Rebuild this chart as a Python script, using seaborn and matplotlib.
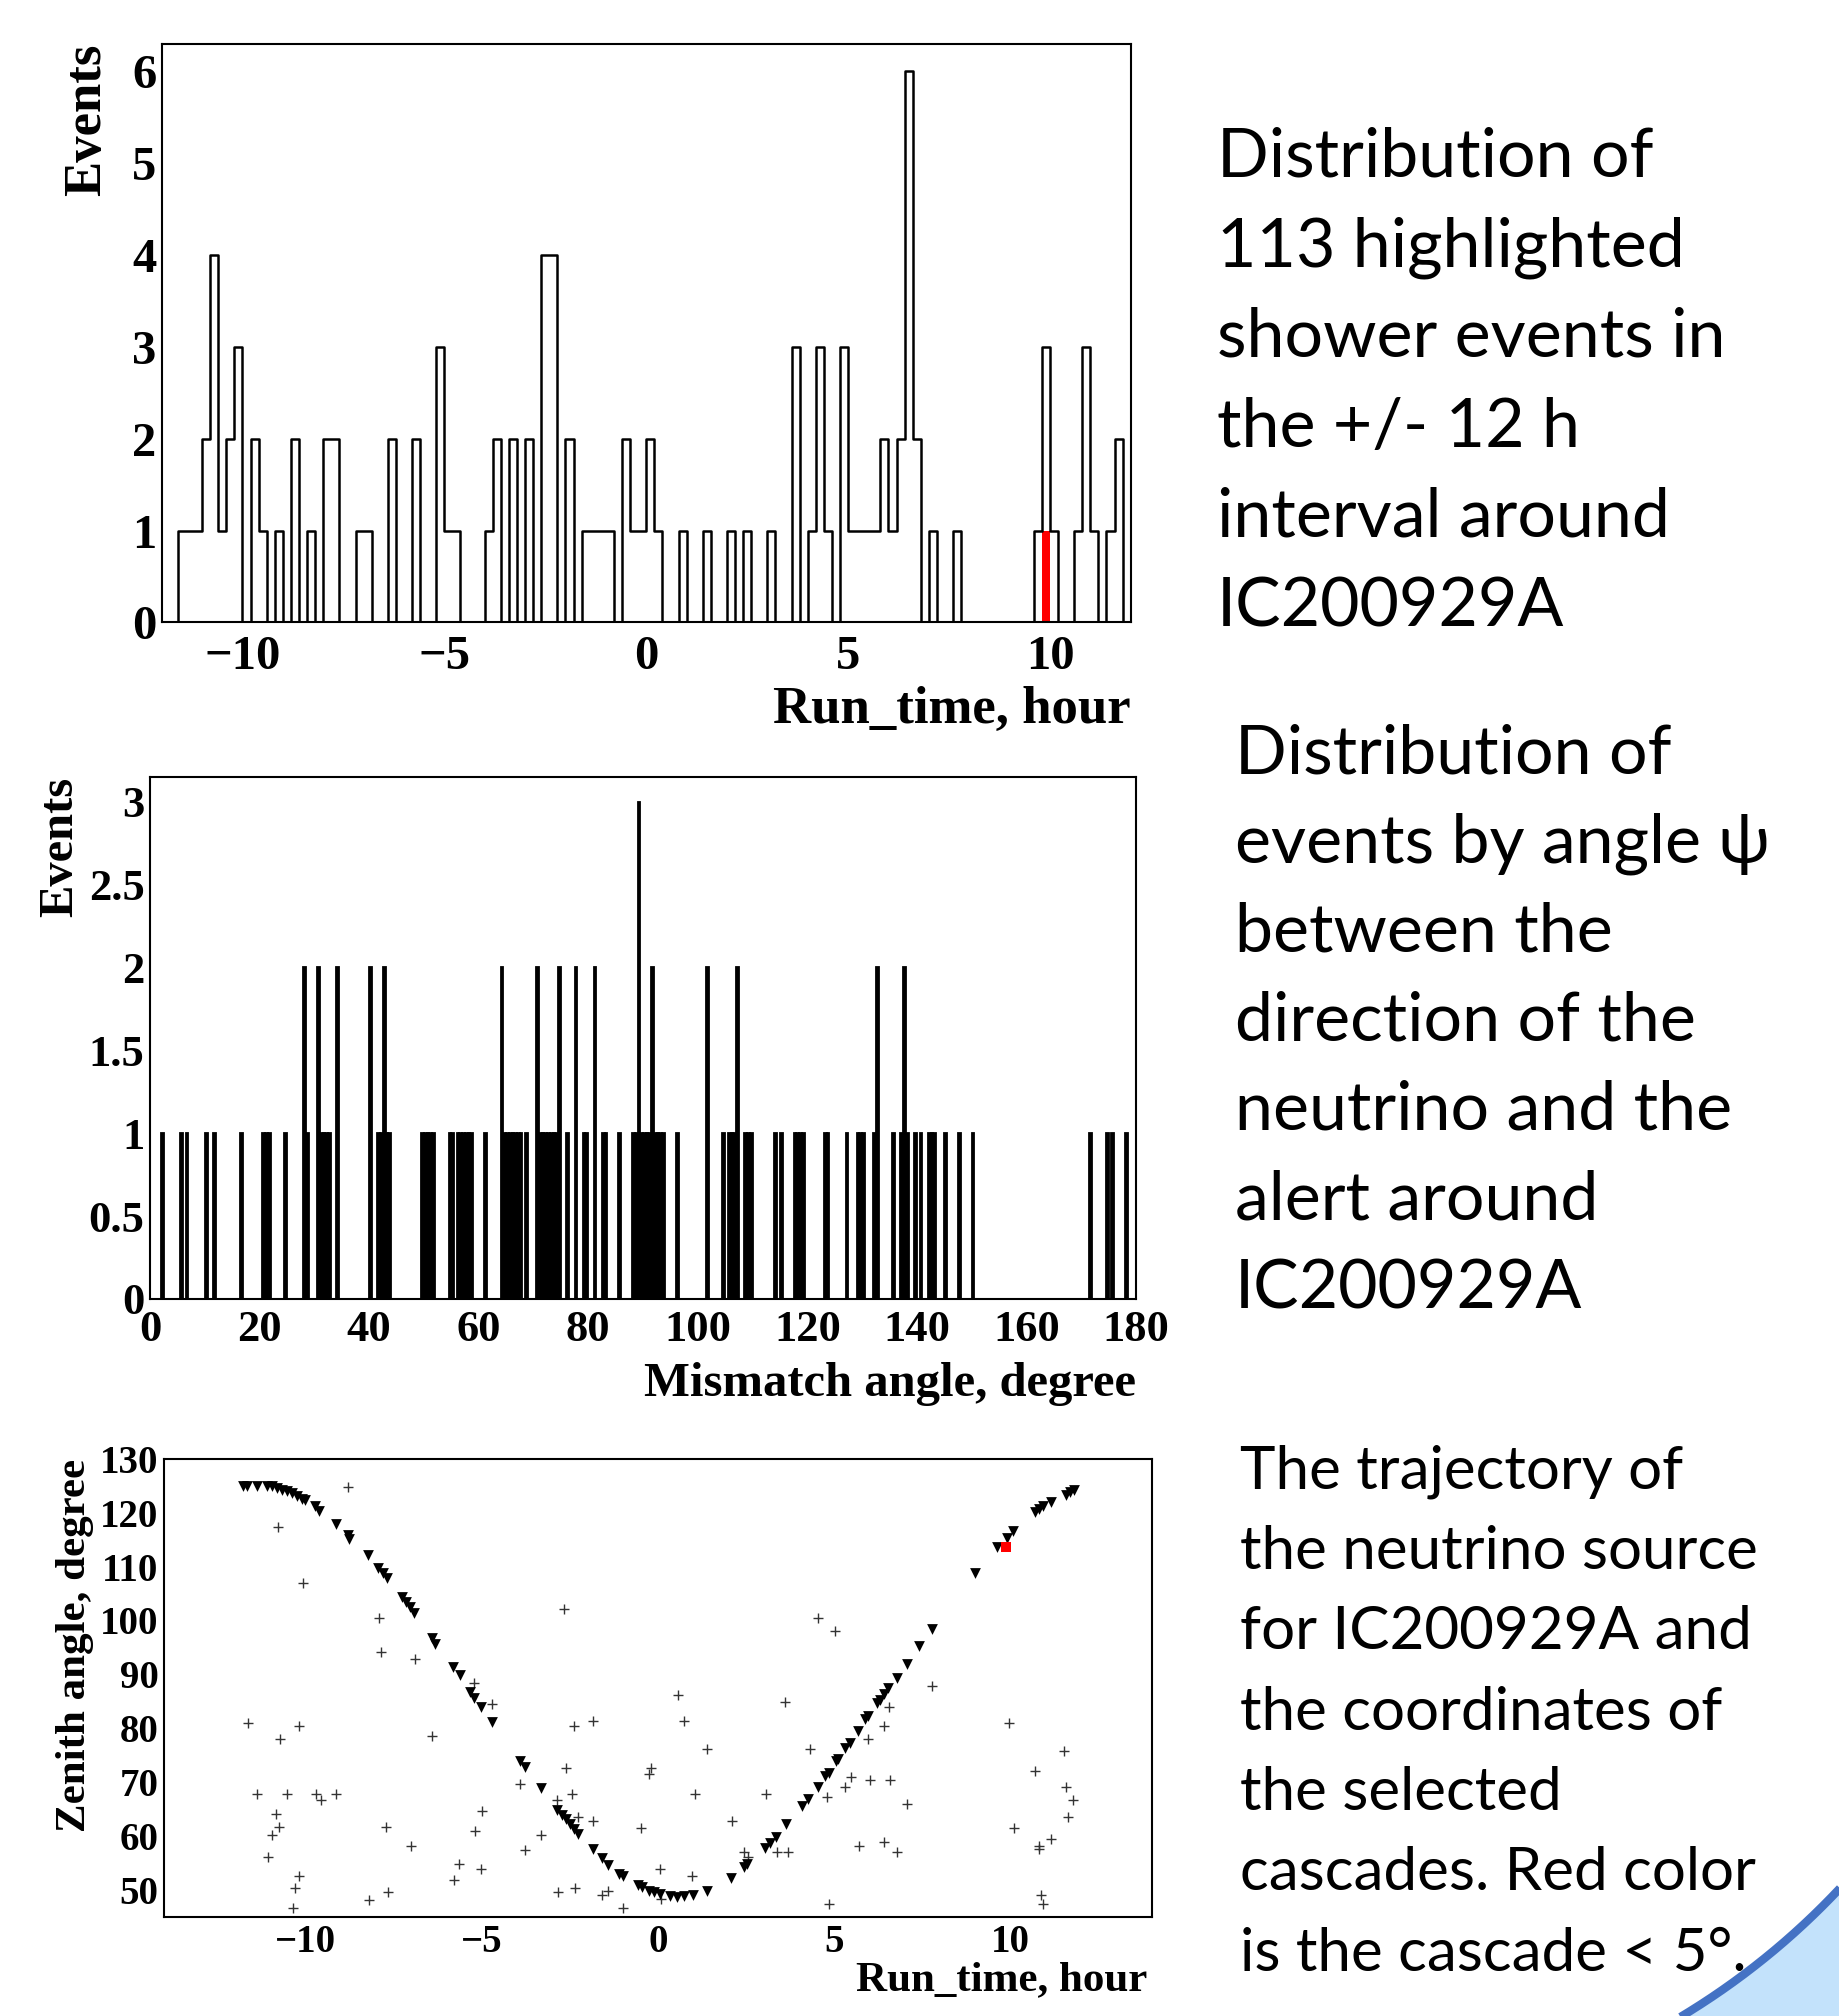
import numpy as np
import pandas as pd
import matplotlib
matplotlib.use("Agg")
import matplotlib.pyplot as plt
from matplotlib.ticker import MultipleLocator, FuncFormatter
import seaborn as sns

# --- data ---
# top: 113 shower events, 0.2 h bins from -12 h to +12 h
run_counts = [
    0, 0, 1, 1, 1, 2, 4, 1, 2, 3, 0, 2, 1, 0, 1, 0, 2, 0, 1, 0,
    2, 2, 0, 0, 1, 1, 0, 0, 2, 0, 0, 2, 0, 0, 3, 1, 1, 0, 0, 0,
    1, 2, 0, 2, 0, 2, 0, 4, 4, 0, 2, 0, 1, 1, 1, 1, 0, 2, 1, 1,
    2, 1, 0, 0, 1, 0, 0, 1, 0, 0, 1, 0, 1, 0, 0, 1, 0, 0, 3, 0,
    1, 3, 1, 0, 3, 1, 1, 1, 1, 2, 1, 2, 6, 2, 0, 1, 0, 0, 1, 0,
    0, 0, 0, 0, 0, 0, 0, 0, 1, 3, 1, 0, 0, 1, 3, 1, 0, 1, 2, 0,
]
red_run_time = [9.9]

# middle: mismatch angle, 0.5 degree bins (bin centre, events)
psi_centers = [
    2.25, 5.75, 6.75, 10.25, 11.75, 16.75, 20.75, 21.25, 21.75, 24.75,
    28.25, 28.75, 30.75, 31.25, 31.75, 32.25, 32.75, 34.25, 40.25, 41.75,
    42.25, 42.75, 43.25, 43.75, 49.75, 50.25, 50.75, 51.25, 51.75, 54.75,
    55.25, 56.25, 56.75, 57.25, 57.75, 58.25, 58.75, 61.25, 64.25, 64.75,
    65.25, 65.75, 66.25, 66.75, 67.25, 67.75, 68.75, 70.75, 71.25, 71.75,
    72.25, 72.75, 73.25, 73.75, 74.25, 74.75, 76.25, 77.75, 79.25, 79.75,
    81.25, 82.75, 83.25, 85.75, 88.25, 88.75, 89.25, 89.75, 90.25, 90.75,
    91.25, 91.75, 92.25, 92.75, 93.25, 93.75, 96.25, 101.75, 104.75, 105.75,
    106.25, 106.75, 107.25, 108.75, 109.25, 109.75, 114.25, 115.25, 117.75, 118.25,
    118.75, 119.25, 123.25, 123.75, 127.25, 129.25, 129.75, 130.25, 132.25, 132.75,
    135.75, 137.25, 137.75, 138.25, 139.75, 140.75, 142.25, 142.75, 143.25, 145.25,
    147.75, 150.25, 171.75, 174.75, 175.75, 178.25,
]
psi_counts = [
    1, 1, 1, 1, 1, 1, 1, 1, 1, 1,
    2, 1, 2, 1, 1, 1, 1, 2, 2, 1,
    1, 2, 1, 1, 1, 1, 1, 1, 1, 1,
    1, 1, 1, 1, 1, 1, 1, 1, 2, 1,
    1, 1, 1, 1, 1, 1, 1, 2, 1, 1,
    1, 1, 1, 1, 1, 2, 1, 2, 1, 1,
    2, 1, 1, 1, 1, 1, 3, 1, 1, 1,
    1, 2, 1, 1, 1, 1, 1, 2, 1, 1,
    1, 1, 2, 1, 1, 1, 1, 1, 1, 1,
    1, 1, 1, 1, 1, 1, 1, 1, 1, 2,
    1, 1, 2, 1, 1, 1, 1, 1, 1, 1,
    1, 1, 1, 1, 1, 1,
]

# bottom: source trajectory (triangles)
track_t = [
    -11.75, -11.64, -11.37, -11.09, -10.95, -10.80, -10.66, -10.52, -10.38, -10.24,
    -10.10, -10.00, -9.72, -9.60, -9.12, -8.79, -8.75, -8.23, -7.92, -7.78,
    -7.67, -7.26, -7.14, -7.02, -6.90, -6.41, -6.31, -5.81, -5.60, -5.32,
    -5.21, -5.02, -4.71, -3.92, -3.78, -3.31, -2.85, -2.72, -2.60, -2.49,
    -2.37, -2.25, -1.85, -1.57, -1.40, -1.09, -1.00, -0.57, -0.45, -0.26,
    -0.12, 0.07, 0.35, 0.54, 0.75, 1.01, 1.39, 2.08, 2.43, 2.53,
    3.04, 3.19, 3.36, 3.64, 4.08, 4.27, 4.53, 4.74, 4.84, 5.06,
    5.12, 5.31, 5.45, 5.66, 5.88, 5.95, 6.21, 6.30, 6.40, 6.52,
    6.78, 7.05, 7.40, 7.77, 8.99, 9.62, 9.89, 10.08, 10.68, 10.80,
    10.93, 11.14, 11.56, 11.69, 11.80,
]
track_zen = [
    125.0, 125.0, 125.0, 125.0, 124.9, 124.6, 124.3, 124.0, 123.6, 123.1,
    122.6, 122.3, 121.2, 120.4, 117.9, 115.8, 115.2, 112.1, 109.7, 108.8,
    107.8, 104.3, 103.4, 102.5, 101.3, 96.7, 95.6, 91.4, 89.8, 86.7,
    85.6, 83.9, 81.1, 73.9, 72.8, 68.8, 64.7, 63.8, 63.1, 62.2,
    61.3, 60.4, 57.5, 55.8, 54.5, 52.9, 52.6, 50.8, 50.4, 49.8,
    49.6, 49.1, 48.8, 48.6, 48.8, 48.9, 49.8, 52.2, 54.1, 54.7,
    57.8, 58.6, 59.8, 62.1, 65.6, 66.9, 69.1, 71.1, 71.7, 73.8,
    74.2, 76.3, 77.2, 79.4, 81.6, 82.3, 84.6, 85.3, 86.3, 87.5,
    89.4, 91.9, 95.2, 98.4, 108.8, 113.6, 115.4, 116.7, 120.2, 120.8,
    121.3, 122.1, 123.4, 123.9, 124.2,
]

# bottom: selected cascades (crosses)
casc_t = [
    -8.79, -10.78, -10.07, -7.90, -7.84, -6.88, -11.63, -10.16, -10.71, -6.41,
    -11.35, -10.52, -9.70, -9.56, -9.12, -10.83, -10.95, -10.73, -11.06, -10.16,
    -10.28, -10.35, -7.71, -7.00, -8.20, -7.66, -5.63, -5.79,
    -2.65, -5.21, -4.69, -2.39, -1.85, -2.60, -3.92, -2.44, -4.99, -5.18,
    -5.02, -3.31, -3.76, -2.85, -2.25, -1.84, -2.84, -2.34, -1.57, -1.40,
    -1.00, -0.47, -0.25, -0.20, 0.57, 0.73, 1.39, 1.06, 0.05, 0.09,
    0.98, 2.10, 2.43, 2.55, 3.06, 3.37, 3.70, 3.61, 4.32, 4.79,
    4.54, 5.03, 4.84,
    7.77, 6.54, 6.40, 5.95, 5.47, 5.31, 6.00, 6.57, 7.05, 5.69,
    6.40, 6.78, 9.95, 10.09, 10.68, 11.52, 11.56, 11.78, 11.63, 11.14,
    10.80, 10.80, 10.87, 10.92,
]
casc_zen = [
    124.8, 117.4, 106.9, 100.4, 94.1, 92.9, 80.9, 80.3, 78.0, 78.6,
    67.8, 67.8, 67.8, 66.6, 67.8, 64.1, 60.1, 61.6, 56.1, 52.6,
    50.3, 46.6, 61.6, 58.1, 48.1, 49.6, 54.7, 51.8,
    102.2, 88.3, 84.4, 80.3, 81.4, 72.6, 69.7, 67.8, 64.6, 60.8,
    53.9, 60.2, 57.4, 66.6, 63.4, 62.8, 49.6, 50.3, 48.9, 49.7,
    46.6, 61.4, 71.4, 72.6, 86.1, 81.4, 76.1, 67.8, 53.9, 48.3,
    52.6, 62.8, 57.0, 56.1, 67.8, 57.0, 57.0, 84.9, 76.1, 67.2,
    100.4, 98.1, 47.4,
    87.8, 83.9, 80.3, 78.0, 70.9, 69.1, 70.3, 70.3, 65.9, 58.1,
    58.8, 56.9, 80.9, 61.4, 72.1, 75.8, 69.1, 66.6, 63.4, 59.4,
    58.1, 57.5, 48.9, 47.3,
]
red_t = [9.88]
red_zen = [113.6]

text_top = ["Distribution of", "113 highlighted", "shower events in",
            "the +/- 12 h", "interval around", "IC200929A"]
text_mid = ["Distribution of", "events by angle \u03c8", "between the",
            "direction of the", "neutrino and the", "alert around", "IC200929A"]
text_bot = ["The trajectory of", "the neutrino source", "for IC200929A and",
            "the coordinates of", "the selected", "cascades. Red color",
            "is the cascade < 5\u00b0."]

# --- style ---
sns.set_theme(style="white")
plt.rcParams['font.family'] = ['Liberation Serif', 'DejaVu Serif']
plt.rcParams['font.weight'] = 'bold'
plt.rcParams['axes.labelweight'] = 'bold'
plt.rcParams['text.color'] = 'black'
plt.rcParams['axes.labelcolor'] = 'black'

W, H = 1839, 2016
fig = plt.figure(figsize=(W / 100, H / 100), dpi=100)
fig.patch.set_facecolor('white')


def px_axes(left, top, right, bottom):
    return fig.add_axes([left / W, 1 - bottom / H, (right - left) / W, (bottom - top) / H])


def root_style(ax, xmaj, xmin, ymaj, ymin, ylen, xlen, labsize, xpad, ypad):
    for sp in ax.spines.values():
        sp.set_linewidth(1.5)
        sp.set_color('black')
    ax.xaxis.set_major_locator(MultipleLocator(xmaj))
    ax.xaxis.set_minor_locator(MultipleLocator(xmin))
    ax.yaxis.set_major_locator(MultipleLocator(ymaj))
    ax.yaxis.set_minor_locator(MultipleLocator(ymin))
    ax.tick_params(which='both', direction='in', top=False, right=False,
                   color='#666666', width=1.0, labelcolor='black', labelsize=labsize)
    ax.tick_params(axis='y', which='major', length=ylen, pad=ypad)
    ax.tick_params(axis='y', which='minor', length=ylen / 2)
    ax.tick_params(axis='x', which='major', length=xlen, pad=xpad)
    ax.tick_params(axis='x', which='minor', length=xlen / 2)
    ax.xaxis.set_major_formatter(FuncFormatter(lambda v, p: f"{v:g}".replace('-', '\u2212')))
    ax.yaxis.set_major_formatter(FuncFormatter(lambda v, p: f"{v:g}"))
    ax.grid(False)


def set_labels(ax, xl, yl, size, xy, yx):
    ax.set_xlabel(xl, fontsize=size, loc='right')
    ax.set_ylabel(yl, fontsize=size, loc='top')
    ax.xaxis.set_label_coords(xy[0], xy[1])
    ax.yaxis.set_label_coords(yx[0], yx[1])
    ax.xaxis.label.set_va('center')
    ax.yaxis.label.set_va('center')


# background corner decoration
bg = fig.add_axes([0, 0, 1, 1], zorder=-5)
bg.set_xlim(0, W)
bg.set_ylim(H, 0)
bg.axis('off')
cx, cy, r = 1298, 1380, 743
t = np.radians(np.linspace(25, 75, 200))
arc_x = cx + r * np.cos(t)
arc_y = cy + r * np.sin(t)
bg.fill(np.append(arc_x, 3500), np.append(arc_y, 3500), color='#C3E2FB', lw=0)
bg.plot(arc_x, arc_y, color='#4472C4', lw=6, solid_capstyle='butt')

# --- top: run time histogram ---
ax1 = px_axes(161.7, 43.7, 1130.7, 622.4)
run_edges = [round(-12 + 0.2 * i, 1) for i in range(len(run_counts) + 1)]
run_df = pd.DataFrame({'t': [e + 0.1 for e in run_edges[:-1]], 'n': run_counts})
red_df = pd.DataFrame({'t': red_run_time})
sns.histplot(data=red_df, x='t', bins=[9.8, 10.0], element="bars", fill=True,
             color='red', alpha=1, linewidth=0, ax=ax1, zorder=2)
sns.histplot(data=run_df, x='t', weights='n', bins=run_edges, element="step",
             fill=False, color='black', linewidth=1.8, ax=ax1, zorder=3)
ax1.set_xlim(-12, 12)
ax1.set_ylim(0, 6.3)
root_style(ax1, 5, 1, 1, 0.2, 21, 11, 35, 9, 4)
set_labels(ax1, 'Run_time, hour', 'Events', 38, (1.0, -0.152), (-0.077, 1.0))

# --- middle: mismatch angle histogram ---
ax2 = px_axes(150, 776.8, 1136, 1299)
psi_edges = [0.5 * i for i in range(361)]
psi_df = pd.DataFrame({'psi': psi_centers, 'n': psi_counts})
sns.histplot(data=psi_df, x='psi', weights='n', bins=psi_edges, element="bars",
             fill=True, color='black', edgecolor='black', alpha=1, linewidth=1.3, ax=ax2)
ax2.set_xlim(0, 180)
ax2.set_ylim(0, 3.15)
root_style(ax2, 20, 5, 0.5, 0.1, 21, 11, 32, 8, 4)
set_labels(ax2, 'Mismatch angle, degree', 'Events', 35, (1.0, -0.163), (-0.091, 1.0))

# --- bottom: zenith angle vs run time ---
ax3 = px_axes(164, 1459, 1151.7, 1917)
sns.scatterplot(x=casc_t, y=casc_zen, marker='+', s=52, color='#333333',
                linewidth=1.0, ax=ax3, zorder=2)
sns.scatterplot(x=track_t, y=track_zen, marker='v', s=60, color='black',
                edgecolor='black', linewidth=0, ax=ax3, zorder=3)
sns.scatterplot(x=red_t, y=red_zen, marker='s', s=45, color='red',
                edgecolor='red', linewidth=0, ax=ax3, zorder=4)
ax3.set_xlim(-14, 14)
ax3.set_ylim(44.9, 130)
root_style(ax3, 5, 1, 10, 2, 21, 10, 28, 5, 4)
set_labels(ax3, 'Run_time, hour', 'Zenith angle, degree', 31, (0.996, -0.137), (-0.0905, 1.0))

# --- right-hand captions ---
cap_font = ['Lato', 'DejaVu Sans']
for lines, x0, y0, step, size in [(text_top, 1217, 176.8, 90.0, 49),
                                  (text_mid, 1235, 773.5, 89.1, 49),
                                  (text_bot, 1240, 1488.5, 80.4, 43.3)]:
    for i, line in enumerate(lines):
        fig.text(x0 / W, 1 - (y0 + i * step) / H, line, family=cap_font,
                 fontweight='normal', fontsize=size, ha='left', va='baseline',
                 color='black')

fig.savefig('out.png', dpi=100, facecolor='white')
